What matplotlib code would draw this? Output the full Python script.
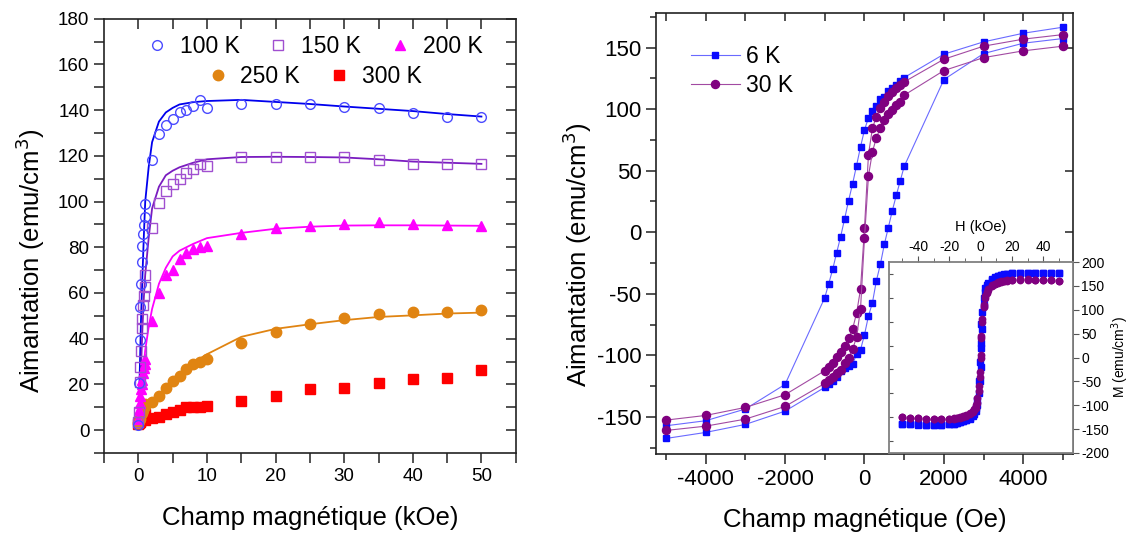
import matplotlib
matplotlib.use('Agg')
import matplotlib.pyplot as plt
from matplotlib.ticker import MultipleLocator
from matplotlib.lines import Line2D

plt.rcParams['font.family'] = ['Liberation Sans', 'DejaVu Sans']
plt.rcParams['axes.unicode_minus'] = False

# ---------------- Left panel data (kOe, emu/cm3) ----------------
H_left = [0, 0.1, 0.2, 0.3, 0.4, 0.5, 0.6, 0.7, 0.8, 0.9, 1.0,
          2, 3, 4, 5, 6, 7, 8, 9, 10,
          15, 20, 25, 30, 35, 40, 45, 50]
M_100K = [2.2, 20.5, 39.3, 53.9, 64.1, 73.5, 80.6, 85.9, 89.9, 93.2, 99.0,
          118.2, 129.6, 133.3, 136.2, 139.0, 140.0, 141.7, 144.6, 140.9,
          142.6, 142.6, 142.6, 141.6, 140.9, 138.8, 137.1, 137.1]
M_150K = [3.5, 8.0, 21.2, 27.7, 34.7, 44.5, 48.8, 54.9, 58.7, 62.6, 67.7,
          88.3, 99.3, 104.8, 107.5, 110.0, 112.3, 114.3, 116.3, 115.7,
          119.4, 119.3, 119.3, 119.3, 118.2, 116.3, 116.3, 116.3]
M_200K = [5, 9, 12, 15, 18, 20, 22, 25, 27, 29, 31.2,
          47.8, 60.2, 68.0, 70.2, 75.0, 77.6, 79.4, 80.1, 80.5,
          86.0, 88.3, 89.4, 90.0, 90.9, 90.1, 89.8, 89.4]
M_250K = [3, 4, 5, 6, 7, 7.5, 8.5, 9, 10, 10.5, 11.5,
          12.5, 15.1, 18.6, 21.4, 23.6, 26.9, 28.8, 29.8, 30.9,
          38.1, 42.7, 46.3, 49.2, 50.7, 51.7, 51.7, 52.4]
M_300K = [2.5, 3, 3.5, 4, 4.5, 5, 5.5, 6, 6.5, 7, 4.4,
          5.1, 5.8, 7.0, 7.7, 9.0, 9.9, 10.3, 10.3, 10.5,
          12.8, 14.8, 17.8, 18.6, 20.8, 22.3, 23.0, 26.2]

H_fit = [0, 0.2, 0.4, 0.6, 0.8, 1.0, 1.5, 2, 3, 4, 5, 6, 8, 10,
         15, 20, 25, 30, 35, 40, 45, 50]
fit_100K = [2, 25, 50, 68, 85, 100, 115, 126, 135, 139, 141, 142.5, 143.5, 144,
            144.5, 143.6, 142.7, 141.6, 140.6, 139.6, 138.3, 137.2]
fit_150K = [3, 12, 28, 45, 58, 68, 84, 97, 106.5, 111.5, 113.5, 115, 117, 118.5,
            119.5, 119.6, 119.5, 119.3, 118.5, 117.5, 117, 116.5]
fit_200K = [5, 10, 17, 23, 29, 35, 45, 53, 64, 71, 76, 78.5, 81.5, 84,
            86.3, 88.1, 89, 89.5, 89.6, 89.6, 89.5, 89.4]
fit_250K = [2, 3, 4, 5, 6, 7, 9, 11, 15, 18.2, 21.5, 24.5, 29.5, 33.2,
            40.8, 44.3, 46.3, 48.1, 49.5, 50.2, 51, 51.4]

# ---------------- Right panel data (Oe, emu/cm3) ----------------
H_desc = [5000, 4000, 3000, 2000, 1000, 900, 800, 700, 600, 500, 400, 300, 200, 100, 0,
          -100, -200, -300, -400, -500, -600, -700, -800, -900, -1000,
          -2000, -3000, -4000, -5000]
H_asc = [-5000, -4000, -3000, -2000, -1000, -900, -800, -700, -600, -500, -400, -300, -200, -100, 0,
         100, 200, 300, 400, 500, 600, 700, 800, 900, 1000,
         2000, 3000, 4000, 5000]
M6_desc = [166.5, 161.6, 154.6, 144.6, 125.6, 122.9, 119.7, 117.0, 114.3, 110.2, 108.3, 102.6, 98.8, 92.9, 83.1,
           69.3, 54.1, 39.3, 25.7, 10.9, -3.5, -16.5, -30.0, -41.7, -53.1,
           -123.5, -143.5, -153.0, -157.1]
M6_asc = [-167.4, -162.5, -156.0, -145.2, -125.9, -123.0, -120.5, -117.5, -113.0, -110.5, -108.5, -107.0, -99.1, -95.4, -83.2,
          -68.0, -57.2, -39.3, -26.0, -9.8, 3.8, 17.4, 29.9, 41.7, 53.5,
          124.0, 145.1, 153.5, 157.3]
M30_desc = [160.5, 156.8, 151.1, 140.5, 122.1, 119.7, 117.0, 114.0, 111.0, 105.6, 101.2, 93.9, 84.5, 63.0, 3.2,
            -46.3, -65.8, -78.6, -86.1, -92.4, -97.0, -101.5, -106.5, -109.2, -112.4,
            -131.9, -142.2, -148.7, -152.5]
M30_asc = [-160.9, -157.4, -151.7, -141.4, -122.7, -120.0, -117.5, -114.5, -111.5, -106.5, -102.0, -95.0, -85.3, -62.3, -4.9,
           45.7, 65.2, 76.9, 84.5, 91.2, 95.9, 99.0, 103.0, 106.0, 111.3,
           131.3, 141.8, 147.3, 151.1]

# ---------------- Inset data (kOe) ----------------
H_inset = [-50, -45, -40, -35, -30, -25, -20, -17, -15, -13, -11, -9, -7, -5, -4, -3, -2, -1, -0.5,
           0, 0.5, 1, 2, 3, 4, 5, 7, 9, 11, 13, 15, 17, 20, 25, 30, 35, 40, 45, 50]
Mi6_asc = [-139, -140, -141, -141, -141, -141, -140, -139, -138, -136, -134, -131, -128, -123, -119, -112, -100, -75, -50,
           -20, 20, 60, 110, 138, 148, 154, 162, 167, 170, 172, 174, 175, 177, 178, 178, 178, 177, 177, 177]
Mi6_desc = [-139, -140, -140, -141, -141, -141, -140, -139, -137, -135, -133, -130, -126, -120, -115, -106, -90, -50, -10,
            30, 70, 95, 125, 145, 152, 157, 164, 168, 171, 173, 175, 176, 177, 178, 178, 178, 178, 177, 177]
Mi30_asc = [-124, -126, -127, -128, -129, -129, -129, -128, -127, -126, -124, -122, -119, -115, -111, -105, -95, -70, -40,
            0, 40, 75, 105, 125, 136, 142, 150, 154, 157, 159, 160, 161, 162, 163, 163, 163, 162, 162, 161]
Mi30_desc = [-124, -126, -127, -128, -129, -129, -128, -127, -126, -125, -123, -120, -117, -112, -108, -100, -85, -60, -30,
             5, 45, 80, 110, 128, 138, 144, 151, 155, 158, 160, 161, 162, 163, 164, 164, 163, 163, 162, 161]

# ---------------- Figure ----------------
fig = plt.figure(figsize=(11.31, 5.36), dpi=100)
LABEL_FS = 18.5


def style_main(ax, fs):
    for s in ax.spines.values():
        s.set_linewidth(1.2)
        s.set_color('#222222')
    ax.tick_params(which='both', direction='out', top=False, right=False,
                   labelsize=fs, width=1.1, color='#222222')


# ---- Left panel ----
ax1 = fig.add_axes([0.092, 0.155, 0.364, 0.81])
c100, c100m = '#0000ee', '#4b4bff'
c150, c150m = '#7a1cc0', '#a04fd0'
c200 = '#ff00ff'
c250 = '#e08412'
c300 = '#ff0000'

ax1.plot(H_fit, fit_100K, color=c100, lw=1.3, zorder=2)
ax1.plot(H_fit, fit_150K, color=c150, lw=1.3, zorder=2)
ax1.plot(H_fit, fit_200K, color=c200, lw=1.3, zorder=2)
ax1.plot(H_fit, fit_250K, color=c250, lw=1.3, zorder=2)

ax1.plot(H_left, M_300K, ls='none', marker='s', ms=6.5, color=c300, zorder=3)
ax1.plot(H_left, M_250K, ls='none', marker='o', ms=7.5, color=c250, zorder=3)
ax1.plot(H_left, M_200K, ls='none', marker='^', ms=7.5, color=c200, zorder=3)
ax1.plot(H_left, M_150K, ls='none', marker='s', ms=6.5, mfc='none', mec=c150m, mew=1.0, zorder=4)
ax1.plot(H_left, M_100K, ls='none', marker='o', ms=7, mfc='none', mec=c100m, mew=1.0, zorder=4)

ax1.set_xlim(-5, 55)
ax1.set_ylim(-10, 180)
ax1.xaxis.set_major_locator(MultipleLocator(10))
ax1.xaxis.set_minor_locator(MultipleLocator(5))
ax1.yaxis.set_major_locator(MultipleLocator(20))
ax1.yaxis.set_minor_locator(MultipleLocator(10))
style_main(ax1, 13.5)
ax1.tick_params(which='both', length=7)
sec = ax1.secondary_xaxis('top')
sec.set_xticks([0, 5, 10, 15, 20, 25, 30, 35, 40, 45, 50])
sec.tick_params(direction='in', length=7, labeltop=False, width=1.1, color='#222222')
sec.spines['top'].set_visible(False)
secy = ax1.secondary_yaxis('right')
secy.set_yticks([0, 10, 20, 30, 40, 50, 60, 70, 80, 90, 100, 110, 120, 130, 140, 150, 160, 170, 180])
secy.tick_params(direction='in', length=7, labelright=False, width=1.1, color='#222222')
secy.spines['right'].set_visible(False)

ax1.set_xlabel('Champ magnétique (kOe)', fontsize=LABEL_FS, labelpad=15.5)
ax1.set_ylabel('Aimantation (emu/cm$^3$)', fontsize=LABEL_FS, labelpad=8)
ax1.yaxis.label.set_y(0.442)

h100 = Line2D([], [], ls='none', marker='o', ms=7, mfc='none', mec=c100m)
h150 = Line2D([], [], ls='none', marker='s', ms=6.5, mfc='none', mec=c150m)
h200 = Line2D([], [], ls='none', marker='^', ms=7.5, color=c200)
h250 = Line2D([], [], ls='none', marker='o', ms=7.5, color=c250)
h300 = Line2D([], [], ls='none', marker='s', ms=6.5, color=c300)
leg1 = ax1.legend([h100, h150, h200], ['100 K', '150 K', '200 K'], ncol=3, loc='center',
                  bbox_to_anchor=(0.51, 0.936), frameon=False, fontsize=16.5,
                  handlelength=1.0, handletextpad=0.5, columnspacing=1.2,
                  borderpad=0, borderaxespad=0)
ax1.add_artist(leg1)
ax1.legend([h250, h300], ['250 K', '300 K'], ncol=2, loc='center',
           bbox_to_anchor=(0.51, 0.868), frameon=False, fontsize=16.5,
           handlelength=1.0, handletextpad=0.5, columnspacing=1.2,
           borderpad=0, borderaxespad=0)

# ---- Right panel ----
ax2 = fig.add_axes([0.58, 0.153, 0.3687, 0.8227])
b_line, b_mark = '#6a6aff', '#0a0aff'
p_line, p_mark = '#a24aa2', '#800080'
ax2.plot(H_desc, M6_desc, color=b_line, lw=0.8, marker='s', ms=5, mfc=b_mark, mec=b_mark, zorder=3)
ax2.plot(H_asc, M6_asc, color=b_line, lw=0.8, marker='s', ms=5, mfc=b_mark, mec=b_mark, zorder=3)
ax2.plot(H_desc, M30_desc, color=p_line, lw=0.8, marker='o', ms=5.8, mfc=p_mark, mec=p_mark, zorder=4)
ax2.plot(H_asc, M30_asc, color=p_line, lw=0.8, marker='o', ms=5.8, mfc=p_mark, mec=p_mark, zorder=4)
ax2.set_xlim(-5250, 5250)
ax2.set_ylim(-180, 178)
ax2.xaxis.set_major_locator(MultipleLocator(2000))
ax2.xaxis.set_minor_locator(MultipleLocator(1000))
ax2.yaxis.set_major_locator(MultipleLocator(50))
ax2.yaxis.set_minor_locator(MultipleLocator(25))
style_main(ax2, 16)
ax2.tick_params(which='major', length=7)
ax2.tick_params(which='minor', length=4)
sec2 = ax2.secondary_xaxis('top')
sec2.set_xticks([-5000, -4000, -3000, -2000, -1000, 0, 1000, 2000, 3000, 4000, 5000])
sec2.tick_params(direction='in', length=6, labeltop=False, width=1.1, color='#222222')
sec2.spines['top'].set_visible(False)
sec2y = ax2.secondary_yaxis('right')
sec2y.set_yticks([-150, -100, -50, 0, 50, 100, 150])
sec2y.tick_params(direction='in', length=6, labelright=False, width=1.1, color='#222222')
sec2y.spines['right'].set_visible(False)
ax2.set_xlabel('Champ magnétique (Oe)', fontsize=LABEL_FS, labelpad=13.5)
ax2.set_ylabel('Aimantation (emu/cm$^3$)', fontsize=LABEL_FS, labelpad=2)
ax2.yaxis.label.set_y(0.451)

hb = Line2D([], [], color=b_line, lw=0.8, marker='s', ms=5, mfc=b_mark, mec=b_mark)
hp = Line2D([], [], color=p_line, lw=0.8, marker='o', ms=5.8, mfc=p_mark, mec=p_mark)
ax2.legend([hb, hp], ['6 K', '30 K'], loc='upper left', bbox_to_anchor=(0.085, 0.927),
           frameon=False, fontsize=16.5, handlelength=2.1, handletextpad=0.3, labelspacing=0.25,
           borderpad=0, borderaxespad=0)

# ---- Inset ----
ax3 = fig.add_axes([0.786, 0.155, 0.1627, 0.356])
ax3.set_facecolor('white')
ax3.plot(H_inset, Mi6_asc, ls='none', marker='s', ms=4.3, color=b_mark, zorder=3)
ax3.plot(H_inset, Mi6_desc, ls='none', marker='s', ms=4.3, color=b_mark, zorder=3)
ax3.plot(H_inset, Mi30_asc, ls='none', marker='o', ms=4.6, color=p_mark, zorder=4)
ax3.plot(H_inset, Mi30_desc, ls='none', marker='o', ms=4.6, color=p_mark, zorder=4)
ax3.set_xlim(-58.5, 59)
ax3.set_ylim(-200, 200)
for s in ax3.spines.values():
    s.set_color('#808080')
    s.set_linewidth(1.3)
ax3.xaxis.set_major_locator(MultipleLocator(20))
ax3.xaxis.set_minor_locator(MultipleLocator(10))
ax3.yaxis.set_major_locator(MultipleLocator(50))
ax3.xaxis.tick_top()
ax3.xaxis.set_label_position('top')
ax3.yaxis.tick_right()
ax3.yaxis.set_label_position('right')
ax3.tick_params(which='both', direction='out', labelsize=10, color='#555555', pad=2)
ax3.tick_params(which='major', length=4)
ax3.tick_params(which='minor', length=3)
ax3.set_xlabel('H (kOe)', fontsize=10.5, labelpad=6)
ax3.set_ylabel('M (emu/cm$^3$)', fontsize=10, labelpad=0)
sec3 = ax3.secondary_yaxis('left')
sec3.set_yticks([-175, -125, -75, -25, 25, 75, 125, 175])
sec3.tick_params(direction='in', length=3, labelleft=False, color='#555555')
sec3.spines['left'].set_visible(False)

fig.savefig('out.png', dpi=100)
